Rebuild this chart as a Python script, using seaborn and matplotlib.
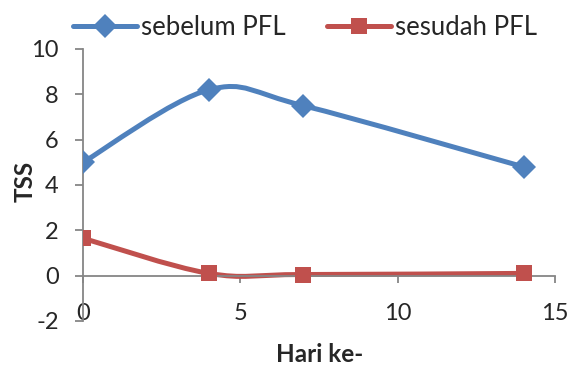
import numpy as np
import pandas as pd
import matplotlib.pyplot as plt
import seaborn as sns
from matplotlib.path import Path
from matplotlib.patches import PathPatch
from matplotlib.lines import Line2D

# data
hari = [0, 4, 7, 14]
sebelum = [5.0, 8.2, 7.5, 4.8]
sesudah = [1.65, 0.1, 0.05, 0.1]
labels = ['sebelum PFL', 'sesudah PFL']

BLUE = '#4F81BD'
RED = '#C0504D'
GRAY = '#868686'


def smooth_path(x, y):
    """Excel-style smoothed line: Catmull-Rom segments as cubic Beziers."""
    pts = np.column_stack([x, y]).astype(float)
    n = len(pts)
    verts = [pts[0]]
    codes = [Path.MOVETO]
    for i in range(n - 1):
        p0 = pts[i - 1] if i > 0 else pts[i]
        p1 = pts[i]
        p2 = pts[i + 1]
        p3 = pts[i + 2] if i + 2 < n else pts[i + 1]
        verts += [p1 + (p2 - p0) / 6, p2 - (p3 - p1) / 6, p2]
        codes += [Path.CURVE4] * 3
    return Path(verts, codes)


sns.set_style('white')
plt.rcParams['font.family'] = ['Lato', 'DejaVu Sans']
plt.rcParams['axes.unicode_minus'] = False

df = pd.DataFrame({
    'hari': hari * 2,
    'tss': sebelum + sesudah,
    'seri': [labels[0]] * len(hari) + [labels[1]] * len(hari),
})

fig = plt.figure(figsize=(5.72, 3.71), dpi=100)
ax = fig.add_axes([0.1451, 0.1348, 0.8252, 0.7332])

for yv, col in [(sebelum, BLUE), (sesudah, RED)]:
    ax.add_patch(PathPatch(smooth_path(hari, yv), fill=False, edgecolor=col,
                           lw=3.6, capstyle='round', joinstyle='round', zorder=2))

sns.lineplot(data=df, x='hari', y='tss', hue='seri', style='seri',
             palette=[BLUE, RED], markers=['D', 's'], dashes=False,
             linestyle='', markersize=12, markeredgewidth=0, ax=ax,
             legend=False, zorder=3)

ax.set_xlim(0, 15)
ax.set_ylim(-2, 10)
ax.set_xticks([0, 5, 10, 15])
ax.set_yticks(range(-2, 11, 2))

for s in ['top', 'right']:
    ax.spines[s].set_visible(False)
ax.spines['bottom'].set_position(('data', 0))
ax.spines['left'].set_position(('data', 0))
for s in ['bottom', 'left']:
    ax.spines[s].set_color(GRAY)
    ax.spines[s].set_linewidth(1.3)

ax.tick_params(axis='x', direction='out', length=5, width=1.3, color=GRAY,
               labelsize=17, pad=15, bottom=True)
ax.tick_params(axis='y', direction='out', length=5.5, width=1.3, color=GRAY,
               labelsize=17, pad=12, left=True)

ax.set_xlabel('Hari ke-', fontsize=17.5, fontweight='bold', va='center')
ax.set_ylabel('TSS', fontsize=17.5, fontweight='bold', va='center')
ax.xaxis.set_label_coords((320 - 83) / 472, -(355 - 321) / 272)
ax.yaxis.set_label_coords(-(83 - 25) / 472, (321 - 181) / 272)

handles = [
    Line2D([], [], color=BLUE, lw=3.6, marker='D', markersize=12, markeredgewidth=0),
    Line2D([], [], color=RED, lw=3.6, marker='s', markersize=12, markeredgewidth=0),
]
fig.legend(handles, labels, loc='center', bbox_to_anchor=(0.533, 0.927),
           ncol=2, frameon=False, fontsize=18.5, handlelength=2.5,
           handletextpad=0.15, columnspacing=1.6)

fig.savefig('out.png', dpi=100)
